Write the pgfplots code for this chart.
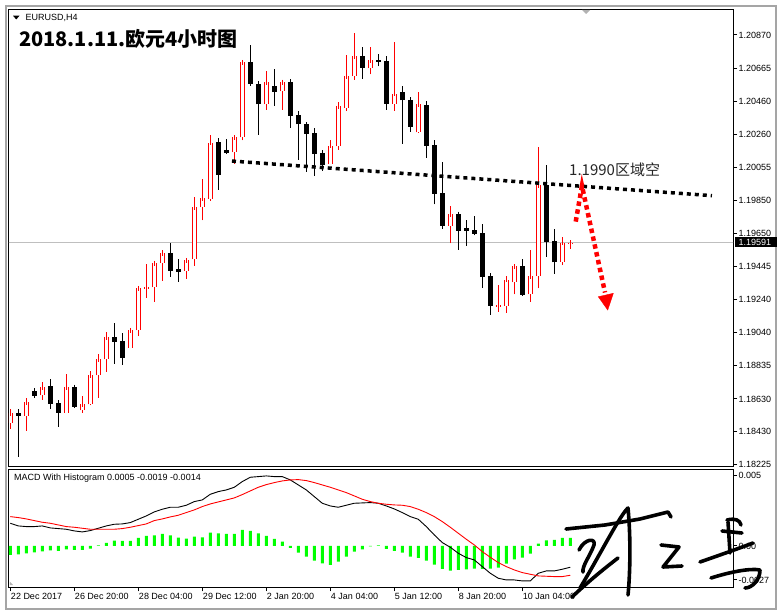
\documentclass[border=0pt]{standalone}
\usepackage{pgfplots}
\pgfplotsset{compat=1.18}
\usepackage{pgfplotstable}
\usepackage{fontspec}
\setmainfont{Liberation Sans}
\newfontfamily\cjk{Noto Sans CJK SC}
\definecolor{mgreen}{RGB}{0,255,0}
\definecolor{framegray}{RGB}{165,165,165}
\newcommand\smallfont{\fontsize{9}{10}\selectfont}

% bullish candles (red, hollow): index open high low close
\pgfplotstableread{
x o h l c
0 1.18484 1.18568 1.18447 1.18542
2 1.18527 1.18636 1.18434 1.18609
4 1.18652 1.18734 1.18625 1.18702
7 1.18545 1.18783 1.18545 1.18702
9 1.18560 1.18648 1.18545 1.18597
10 1.18597 1.18802 1.18591 1.18775
11 1.18775 1.18906 1.18638 1.18874
12 1.18874 1.19042 1.18798 1.19009
15 1.18942 1.19052 1.18942 1.19052
16 1.19052 1.19325 1.19017 1.19311
17 1.19308 1.19462 1.19253 1.19317
18 1.19317 1.19473 1.19228 1.19465
19 1.19465 1.19547 1.19358 1.19526
22 1.19416 1.19491 1.19370 1.19483
23 1.19489 1.19873 1.19450 1.19810
24 1.19810 1.19984 1.19729 1.19865
25 1.19862 1.20255 1.19850 1.20207
28 1.20148 1.20240 1.20076 1.20240
29 1.20240 1.20702 1.20222 1.20702
32 1.20443 1.20648 1.20410 1.20579
34 1.20523 1.20587 1.20410 1.20579
40 1.20074 1.20226 1.20074 1.20187
41 1.20185 1.20456 1.20164 1.20431
42 1.20423 1.20747 1.20402 1.20616
43 1.20616 1.20882 1.20595 1.20739
45 1.20665 1.20796 1.20628 1.20714
48 1.20447 1.20827 1.20404 1.20509
51 1.20271 1.20519 1.20267 1.20443
55 1.19697 1.19816 1.19588 1.19766
61 1.19198 1.19331 1.19167 1.19206
62 1.19204 1.19387 1.19161 1.19362
63 1.19348 1.19446 1.19274 1.19446
65 1.19274 1.19547 1.19228 1.19385
66 1.19385 1.20183 1.19311 1.19945
69 1.19475 1.19625 1.19454 1.19590
70 1.19588 1.19608 1.19555 1.19591
}\bull

% bearish candles (black, filled)
\pgfplotstableread{
x o h l c
1 1.18543 1.18568 1.18274 1.18527
3 1.18679 1.18691 1.18638 1.18650
5 1.18710 1.18753 1.18570 1.18601
6 1.18605 1.18605 1.18459 1.18545
8 1.18703 1.18716 1.18576 1.18582
13 1.19011 1.19097 1.18847 1.18982
14 1.18985 1.19036 1.18841 1.18884
20 1.19526 1.19592 1.19382 1.19419
21 1.19428 1.19491 1.19352 1.19413
26 1.20210 1.20234 1.19918 1.20010
27 1.20160 1.20228 1.20136 1.20142
30 1.20702 1.20808 1.20558 1.20570
31 1.20567 1.20587 1.20256 1.20443
33 1.20554 1.20661 1.20435 1.20521
35 1.20579 1.20599 1.20299 1.20373
36 1.20378 1.20402 1.20101 1.20320
37 1.20320 1.20320 1.20029 1.20263
38 1.20267 1.20299 1.20004 1.20136
39 1.20144 1.20158 1.20035 1.20070
44 1.20739 1.20796 1.20599 1.20669
46 1.20716 1.20753 1.20677 1.20704
47 1.20710 1.20741 1.20410 1.20447
49 1.20519 1.20556 1.20201 1.20468
50 1.20472 1.20472 1.20275 1.20306
52 1.20439 1.20464 1.20115 1.20189
53 1.20193 1.20226 1.19827 1.19893
54 1.19898 1.20086 1.19676 1.19696
56 1.19767 1.19767 1.19549 1.19665
57 1.19681 1.19730 1.19573 1.19665
58 1.19670 1.19755 1.19637 1.19647
59 1.19651 1.19707 1.19315 1.19382
60 1.19387 1.19393 1.19148 1.19204
64 1.19446 1.19491 1.19265 1.19270
67 1.19947 1.20070 1.19504 1.19598
68 1.19602 1.19676 1.19399 1.19471
}\bear

% MACD panel: histogram, MACD line, signal line
\pgfplotstableread{
x hist macd sig
0 -0.000587 0.001479 0.001914
1 -0.000544 0.001305 0.001849
2 -0.000479 0.001262 0.001762
3 -0.000413 0.001262 0.001653
4 -0.000348 0.001305 0.001544
5 -0.000283 0.001175 0.001479
6 -0.000326 0.001131 0.001370
7 -0.000218 0.001088 0.001262
8 -0.000261 0.000979 0.001218
9 -0.000261 0.000914 0.001153
10 -0.000174 0.001001 0.001088
11 0.000030 0.001153 0.001088
12 0.000196 0.001305 0.001088
13 0.000348 0.001414 0.001088
14 0.000326 0.001436 0.001131
15 0.000326 0.001523 0.001218
16 0.000522 0.001740 0.001327
17 0.000653 0.001958 0.001436
18 0.000696 0.002219 0.001653
19 0.000783 0.002393 0.001762
20 0.000696 0.002523 0.001892
21 0.000544 0.002523 0.002001
22 0.000479 0.002654 0.002175
23 0.000609 0.002893 0.002349
24 0.000566 0.003002 0.002567
25 0.000870 0.003371 0.002740
26 0.000827 0.003545 0.002871
27 0.000783 0.003654 0.003002
28 0.000783 0.003828 0.003132
29 0.001044 0.004198 0.003350
30 0.000979 0.004481 0.003589
31 0.000827 0.004524 0.003828
32 0.000653 0.004568 0.004002
33 0.000457 0.004524 0.004133
34 0.000283 0.004524 0.004241
35 -0.000131 0.004307 0.004307
36 -0.000435 0.003980 0.004328
37 -0.000696 0.003654 0.004263
38 -0.000957 0.003219 0.004133
39 -0.001131 0.002784 0.003980
40 -0.001240 0.002610 0.003828
41 -0.001022 0.002523 0.003654
42 -0.000696 0.002654 0.003480
43 -0.000370 0.002784 0.003263
44 -0.000218 0.002806 0.003045
45 -0.000030 0.002828 0.002893
46 0.000040 0.002784 0.002784
47 -0.000196 0.002610 0.002719
48 -0.000326 0.002414 0.002675
49 -0.000435 0.002175 0.002654
50 -0.000696 0.001914 0.002567
51 -0.000783 0.001740 0.002393
52 -0.000957 0.001262 0.002175
53 -0.001218 0.000718 0.001914
54 -0.001501 0.000218 0.001588
55 -0.001610 -0.000087 0.001218
56 -0.001566 -0.000479 0.000827
57 -0.001523 -0.000761 0.000435
58 -0.001479 -0.000914 0.000065
59 -0.001501 -0.001349 -0.000370
60 -0.001479 -0.001784 -0.000740
61 -0.001414 -0.002110 -0.001088
62 -0.001153 -0.002219 -0.001349
63 -0.000870 -0.002219 -0.001566
64 -0.000761 -0.002284 -0.001740
65 -0.000500 -0.002284 -0.001849
66 0.000152 -0.001784 -0.001958
67 0.000370 -0.001631 -0.001979
68 0.000392 -0.001631 -0.002001
69 0.000522 -0.001523 -0.002001
70 0.000522 -0.001392 -0.001914
}\macd

\begin{document}
\begin{tikzpicture}
\useasboundingbox (0pt,0pt) rectangle (783pt,615pt);
\fill[white] (0pt,0pt) rectangle (783pt,615pt);
\draw[framegray, line width=2pt] (6pt,6.5pt) rectangle (776pt,609pt);

\begin{axis}[
  at={(9pt,148pt)}, anchor=south west, scale only axis,
  width=724pt, height=457.7pt,
  xmin=-0.1625, xmax=90.34, ymin=1.18211, ymax=1.21028,
  xtick=\empty,
  ytick={1.20870,1.20665,1.20460,1.20260,1.20055,1.19850,1.19650,1.19445,1.19240,1.19040,1.18835,1.18630,1.18430,1.18225},
  yticklabels={1.20870,1.20665,1.20460,1.20260,1.20055,1.19850,1.19650,1.19445,1.19240,1.19040,1.18835,1.18630,1.18430,1.18225},
  scaled y ticks=false,
  ytick pos=right, tick align=outside, major tick length=4pt,
  yticklabel style={font=\smallfont, anchor=west, inner sep=0pt, xshift=1.5pt},
  axis line style={line width=1pt},
  every tick/.append style={line width=1pt, black},
]
% current price line
\addplot[forget plot, color=black!25, line width=1pt] coordinates {(-1,1.19591) (91,1.19591)};
% wicks
\addplot[forget plot, draw=none, mark=none, error bars/.cd, y dir=plus, y explicit, error mark=none,
  error bar style={draw=black, line width=1pt}]
  table[x=x, y=l, y error plus expr=\thisrow{h}-\thisrow{l}] {\bear};
\addplot[forget plot, draw=none, mark=none, error bars/.cd, y dir=plus, y explicit, error mark=none,
  error bar style={draw=red, line width=1pt}]
  table[x=x, y=l, y error plus expr=\thisrow{h}-\thisrow{l}] {\bull};
% bearish bodies
\addplot[forget plot, draw=none, mark=none, error bars/.cd, y dir=plus, y explicit, error mark=-,
  error mark options={draw=black, line width=1pt, mark size=2.5pt},
  error bar style={draw=black, line width=5pt}]
  table[x=x, y=c, y error plus expr=\thisrow{o}-\thisrow{c}] {\bear};
% bullish bodies (hollow)
\addplot[forget plot, draw=none, mark=none, error bars/.cd, y dir=plus, y explicit, error mark=none,
  error bar style={draw=red, line width=5pt}]
  table[x=x, y=o, y error plus expr=\thisrow{c}-\thisrow{o}] {\bull};
\addplot[forget plot, draw=none, mark=none, error bars/.cd, y dir=plus, y explicit, error mark=-,
  error mark options={draw=red, line width=1pt, mark size=2.5pt},
  error bar style={draw=white, line width=3pt}]
  table[x=x, y=o, y error plus expr=\thisrow{c}-\thisrow{o}] {\bull};
% neckline (black dotted)
\addplot[forget plot, black, line width=3.5pt, dash pattern=on 4pt off 4pt] coordinates {(27.71,1.20094) (87.71,1.19881)};
% red dotted arrow
\addplot[forget plot, red, line width=4.5pt, dash pattern=on 4.5pt off 3.5pt] coordinates {(70.68,1.19721) (71.46,1.19941) (74.34,1.19285)};
\addplot[forget plot, fill=red, draw=red] coordinates {(73.5,1.19259) (75.38,1.19280) (74.68,1.19177)} -- cycle;
\end{axis}

\begin{axis}[
  at={(9pt,27.7pt)}, anchor=south west, scale only axis,
  width=724pt, height=118pt,
  xmin=-0.1625, xmax=90.34, ymin=-0.0027, ymax=0.005,
  xtick={0,8,16,24,32,40,48,56,64},
  xticklabels={22 Dec 2017,26 Dec 20:00,28 Dec 04:00,29 Dec 12:00,2 Jan 20:00,4 Jan 04:00,5 Jan 12:00,8 Jan 20:00,10 Jan 04:00},
  xtick pos=left, ytick pos=right, tick align=outside, major tick length=4pt,
  xticklabel style={font=\smallfont, anchor=north west, inner sep=0pt, xshift=0.5pt, yshift=-1.5pt},
  ytick={0.00458,0,-0.00222},
  yticklabels={0.005,0.00,-0.0027},
  scaled y ticks=false,
  yticklabel style={font=\smallfont, anchor=west, inner sep=0pt, xshift=1.5pt},
  axis line style={line width=1pt},
  every tick/.append style={line width=1pt, black},
]
\addplot[forget plot, ybar, bar width=3pt, fill=mgreen, draw=none] table[x=x, y=hist] {\macd};
\addplot[forget plot, black, line width=0.9pt, mark=none] table[x=x, y=macd] {\macd};
\addplot[forget plot, red, line width=0.9pt, mark=none] table[x=x, y=sig] {\macd};
\end{axis}

\begin{scope}[x=1pt,y=1pt]
% header
\fill[black] (13,599.3) -- (19.5,599.3) -- (16.25,595.5) -- cycle;
\node[anchor=west, inner sep=0pt, font=\smallfont] at (25.5,597.5) {EURUSD,H4};
\node[anchor=base west, inner sep=0pt, font=\cjk\bfseries\fontsize{20}{22}\selectfont] at (19,568.3) {2018.1.11.欧元4小时图};
\fill[black!30] (582,605) -- (590,605) -- (586,601) -- cycle;
% annotation
\node[anchor=west, inner sep=0pt, font=\cjk\fontsize{15}{17}\selectfont, text=black!85] at (569,445) {1.1990区域空};
% MACD caption
\node[anchor=west, inner sep=0pt, font=\smallfont] at (14,136.7) {MACD With Histogram 0.0005 -0.0019 -0.0014};
\fill[black!30] (9.8,33.3) -- (9.8,30) -- (13,30) -- cycle;
% current price box
\fill[black] (735,367.7) rectangle (777,377.7);
\node[anchor=west, inner sep=0pt, font=\smallfont, text=white] at (738.5,372.7) {1.19591};
% signature (handwritten strokes)
\begin{scope}[line width=3.6pt, line cap=round, line join=round]
\draw (566,86) -- (605,90) -- (640,96) -- (668,103) -- (671,98);
\draw (580,27) .. controls (600,60) and (620,100) .. (628,107) .. controls (631,75) and (630,40) .. (628,20);
\draw (579,65) .. controls (585,77) and (596,77) .. (594,70) .. controls (590,59) and (582,49) .. (583,43);
\draw (572,18) .. controls (590,35) and (605,47) .. (618,57);
\draw (661,70) -- (679,68) -- (663,48) -- (682,49);
\draw (727,95) .. controls (735,97) and (740,95) .. (741,90);
\draw (728,93) -- (730,62);
\draw (722,84) -- (742,82);
\draw (700,53) .. controls (720,60) and (740,67) .. (753,72);
\draw (711,37) .. controls (730,43) and (750,47) .. (760,45) .. controls (760,35) and (752,27) .. (745,27);
\end{scope}
\end{scope}
\end{tikzpicture}
\end{document}
